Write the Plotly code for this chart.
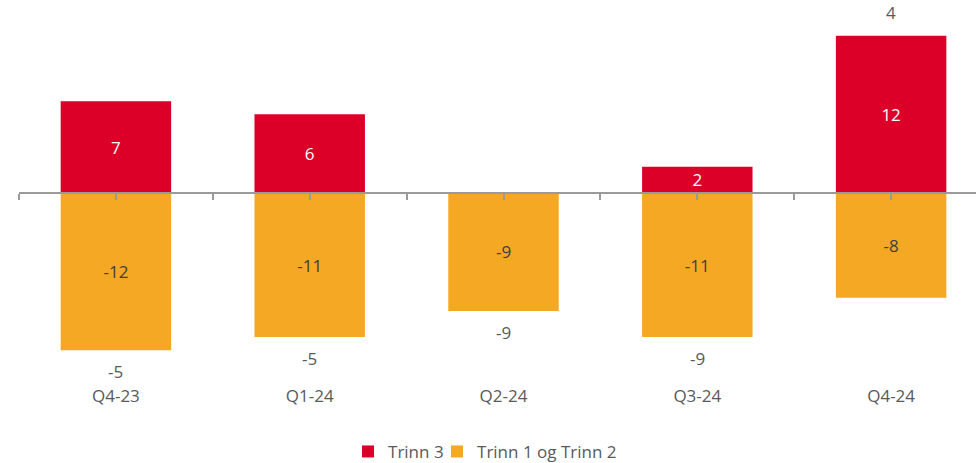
import plotly.graph_objects as go

categories = ["Q4-23", "Q1-24", "Q2-24", "Q3-24", "Q4-24"]
trinn3 = [7, 6, 0, 2, 12]
trinn12 = [-12, -11, -9, -11, -8]
totals = [a + b for a, b in zip(trinn3, trinn12)]

RED = "#DC0028"
ORANGE = "#F5A823"
FONT = "Open Sans"
GREY = "#595959"

y_min, y_max = -14.58, 14.73
x_range = [-0.5, 4.438]

fig = go.Figure()
fig.add_trace(go.Bar(
    x=categories, y=trinn3, name="Trinn 3", marker=dict(color=RED, line=dict(width=0)),
    text=[str(v) if v != 0 else "" for v in trinn3], textposition="inside",
    insidetextanchor="middle", textangle=0, constraintext="none",
    textfont=dict(color="white", size=17, family=FONT), width=0.57, legend="legend",
))
fig.add_trace(go.Bar(
    x=categories, y=trinn12, name="Trinn 1 og Trinn 2", marker=dict(color=ORANGE, line=dict(width=0)),
    text=[str(v) for v in trinn12], textposition="inside",
    insidetextanchor="middle", textangle=0, constraintext="none",
    textfont=dict(color="#404040", size=17, family=FONT), width=0.57, legend="legend2",
))
# invisible trace so the zero-line axis (x2) is drawn
fig.add_trace(go.Scatter(x=[None], y=[None], xaxis="x2", yaxis="y", showlegend=False,
                         hoverinfo="skip", mode="markers"))

# total labels at end of stack
for c, a, b, t in zip(categories, trinn3, trinn12, totals):
    if t > 0:
        fig.add_annotation(x=c, y=a, text=str(t), showarrow=False, yanchor="bottom",
                           yshift=10, font=dict(color=GREY, size=17, family=FONT))
    else:
        fig.add_annotation(x=c, y=b, text=str(t), showarrow=False, yanchor="top",
                           yshift=-8, font=dict(color=GREY, size=17, family=FONT))

zero_pos = (0 - y_min) / (y_max - y_min)
boundary_and_center = [i * 0.5 - 0.5 for i in range(11)]

legend_common = dict(orientation="h", y=-0.13, yanchor="top", xanchor="left",
                     bgcolor="rgba(0,0,0,0)",
                     font=dict(size=17, color=GREY, family=FONT))

fig.update_layout(
    width=976, height=463,
    margin=dict(l=19, r=0, t=0, b=79, autoexpand=False),
    barmode="relative",
    plot_bgcolor="white", paper_bgcolor="white",
    font=dict(family=FONT, size=17, color=GREY),
    xaxis=dict(type="category", range=x_range, showline=False, ticks="",
               showgrid=False, zeroline=False, tickfont=dict(size=17, color=GREY)),
    xaxis2=dict(overlaying="x", anchor="free", position=zero_pos, range=x_range,
                type="linear", showline=True, linecolor="#9A9A9A", linewidth=1.5,
                ticks="outside", ticklen=6, tickwidth=1.5, tickcolor="#9A9A9A",
                tickvals=boundary_and_center, showticklabels=False, showgrid=False,
                zeroline=False, side="bottom"),
    yaxis=dict(range=[y_min, y_max], visible=False, showgrid=False, zeroline=False),
    legend=dict(x=0.3438, **legend_common),
    legend2=dict(x=0.4368, **legend_common),
    showlegend=True,
)

fig.write_html("out.html")
